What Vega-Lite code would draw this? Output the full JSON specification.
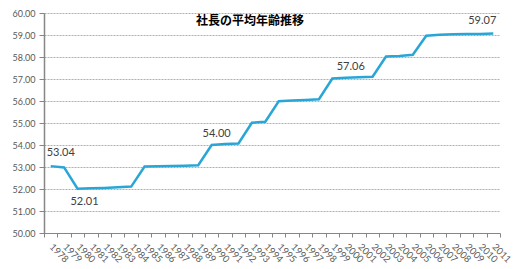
{
  "$schema": "https://vega.github.io/schema/vega-lite/v6.json",
  "width": 456,
  "height": 220,
  "autosize": {"type": "none"},
  "padding": {"left": 44, "top": 13, "right": 20, "bottom": 36},
  "background": "white",
  "title": {
    "text": "社長の平均年齢推移",
    "font": "Noto Sans CJK JP",
    "fontSize": 12,
    "fontWeight": "bold",
    "color": "#000000",
    "anchor": "middle",
    "dx": -22,
    "offset": -19
  },
  "config": {
    "view": {"stroke": null},
    "font": "Lato"
  },
  "data": {
    "values": [
      {"year": "1978", "age": 53.04},
      {"year": "1979", "age": 52.98},
      {"year": "1980", "age": 52.01},
      {"year": "1981", "age": 52.03},
      {"year": "1982", "age": 52.05},
      {"year": "1983", "age": 52.08},
      {"year": "1984", "age": 52.11},
      {"year": "1985", "age": 53.02},
      {"year": "1986", "age": 53.03},
      {"year": "1987", "age": 53.05},
      {"year": "1988", "age": 53.06},
      {"year": "1989", "age": 53.08},
      {"year": "1990", "age": 54.00},
      {"year": "1991", "age": 54.04},
      {"year": "1992", "age": 54.07},
      {"year": "1993", "age": 55.01},
      {"year": "1994", "age": 55.06},
      {"year": "1995", "age": 55.99},
      {"year": "1996", "age": 56.02},
      {"year": "1997", "age": 56.05},
      {"year": "1998", "age": 56.08},
      {"year": "1999", "age": 57.02},
      {"year": "2000", "age": 57.06},
      {"year": "2001", "age": 57.08},
      {"year": "2002", "age": 57.10},
      {"year": "2003", "age": 58.02},
      {"year": "2004", "age": 58.05},
      {"year": "2005", "age": 58.10},
      {"year": "2006", "age": 58.97},
      {"year": "2007", "age": 59.01},
      {"year": "2008", "age": 59.03},
      {"year": "2009", "age": 59.04},
      {"year": "2010", "age": 59.05},
      {"year": "2011", "age": 59.07}
    ]
  },
  "encoding": {
    "x": {
      "field": "year",
      "type": "ordinal",
      "scale": {"type": "band", "paddingInner": 0, "paddingOuter": 0},
      "axis": {
        "title": null,
        "labelAngle": 45,
        "labelAlign": "left",
        "labelBaseline": "middle",
        "labelFontSize": 9.5,
        "labelColor": "#595959",
        "labelPadding": 8,
        "tickBand": "extent",
        "tickSize": 4,
        "tickColor": "#868686",
        "domainColor": "#868686",
        "grid": false
      }
    },
    "y": {
      "field": "age",
      "type": "quantitative",
      "scale": {"domain": [50, 60], "nice": false, "zero": false},
      "axis": {
        "title": null,
        "values": [50, 51, 52, 53, 54, 55, 56, 57, 58, 59, 60],
        "format": ".2f",
        "labelFontSize": 9,
        "labelColor": "#595959",
        "labelPadding": 4,
        "tickSize": 5,
        "tickColor": "#868686",
        "domainColor": "#868686",
        "domainWidth": 1.5,
        "grid": true,
        "gridColor": "#9a9a9a",
        "gridDash": [2, 1],
        "gridWidth": 0.8
      }
    }
  },
  "layer": [
    {
      "mark": {"type": "line", "color": "#2AA6D6", "strokeWidth": 2.5}
    },
    {
      "transform": [{"filter": {"field": "year", "oneOf": ["1978"]}}],
      "mark": {"type": "text", "fontSize": 11, "color": "#404040", "dx": 10, "dy": -13},
      "encoding": {"text": {"field": "age", "type": "quantitative", "format": ".2f"}}
    },
    {
      "transform": [{"filter": {"field": "year", "oneOf": ["1990", "2000"]}}],
      "mark": {"type": "text", "fontSize": 11, "color": "#404040", "dx": 5, "dy": -11},
      "encoding": {"text": {"field": "age", "type": "quantitative", "format": ".2f"}}
    },
    {
      "transform": [{"filter": {"field": "year", "oneOf": ["1980"]}}],
      "mark": {"type": "text", "fontSize": 11, "color": "#404040", "dx": 7, "dy": 13},
      "encoding": {"text": {"field": "age", "type": "quantitative", "format": ".2f"}}
    },
    {
      "transform": [{"filter": {"field": "year", "oneOf": ["2011"]}}],
      "mark": {"type": "text", "fontSize": 11, "color": "#404040", "dx": -11, "dy": -12},
      "encoding": {"text": {"field": "age", "type": "quantitative", "format": ".2f"}}
    }
  ]
}
